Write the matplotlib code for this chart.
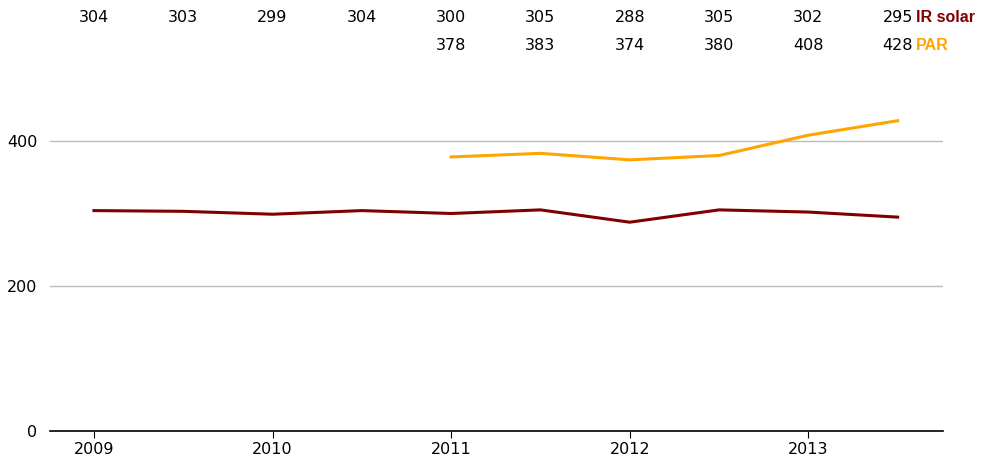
import matplotlib
matplotlib.use("Agg")
import matplotlib.pyplot as plt
import matplotlib.transforms as mtransforms


# half-year steps
x_ir = [2009, 2009.5, 2010, 2010.5, 2011, 2011.5, 2012, 2012.5, 2013, 2013.5]
ir_solar = [304, 303, 299, 304, 300, 305, 288, 305, 302, 295]

x_par = [2011, 2011.5, 2012, 2012.5, 2013, 2013.5]
par = [378, 383, 374, 380, 408, 428]

year_ticks = [2009, 2010, 2011, 2012, 2013]
y_ticks = [0, 200, 400]

IR_COLOR = '#800000'
PAR_COLOR = '#FFA500'

fig = plt.figure(figsize=(9.83, 4.62), dpi=100)
ax = fig.add_axes([50 / 983, 31 / 462, 893 / 983, 362.5 / 462])

ax.plot(x_ir, ir_solar, color=IR_COLOR, lw=2.2)
ax.plot(x_par, par, color=PAR_COLOR, lw=2.2)

ax.set_xlim(2008.754, 2013.754)
ax.set_ylim(0, 500)
ax.set_xticks(year_ticks)
ax.set_xticklabels([str(y) for y in year_ticks])
ax.set_yticks(y_ticks)
ax.tick_params(axis='y', length=0, labelsize=11.5, pad=9)
ax.tick_params(axis='x', length=5, labelsize=11.5, pad=3)
ax.grid(axis='y', color='#bbbbbb', lw=1)
ax.set_axisbelow(True)
for s in ['left', 'right', 'top']:
    ax.spines[s].set_visible(False)
ax.spines['bottom'].set_linewidth(1.2)

# value rows above the plot
trans = mtransforms.blended_transform_factory(ax.transData, fig.transFigure)
for xv, v in zip(x_ir, ir_solar):
    fig.text(xv, 1 - 17 / 462, str(v), transform=trans, ha='center', va='center', fontsize=11.5)
for xv, v in zip(x_par, par):
    fig.text(xv, 1 - 46 / 462, str(v), transform=trans, ha='center', va='center', fontsize=11.5)

lab_x = 916 / 983
fig.text(lab_x, 1 - 17 / 462, 'IR solar', color=IR_COLOR, ha='left', va='center',
         fontsize=11.5, fontweight='bold', family='Liberation Sans')
fig.text(lab_x, 1 - 46 / 462, 'PAR', color=PAR_COLOR, ha='left', va='center',
         fontsize=11.5, fontweight='bold', family='Liberation Sans')

fig.savefig('out.png', dpi=100)
